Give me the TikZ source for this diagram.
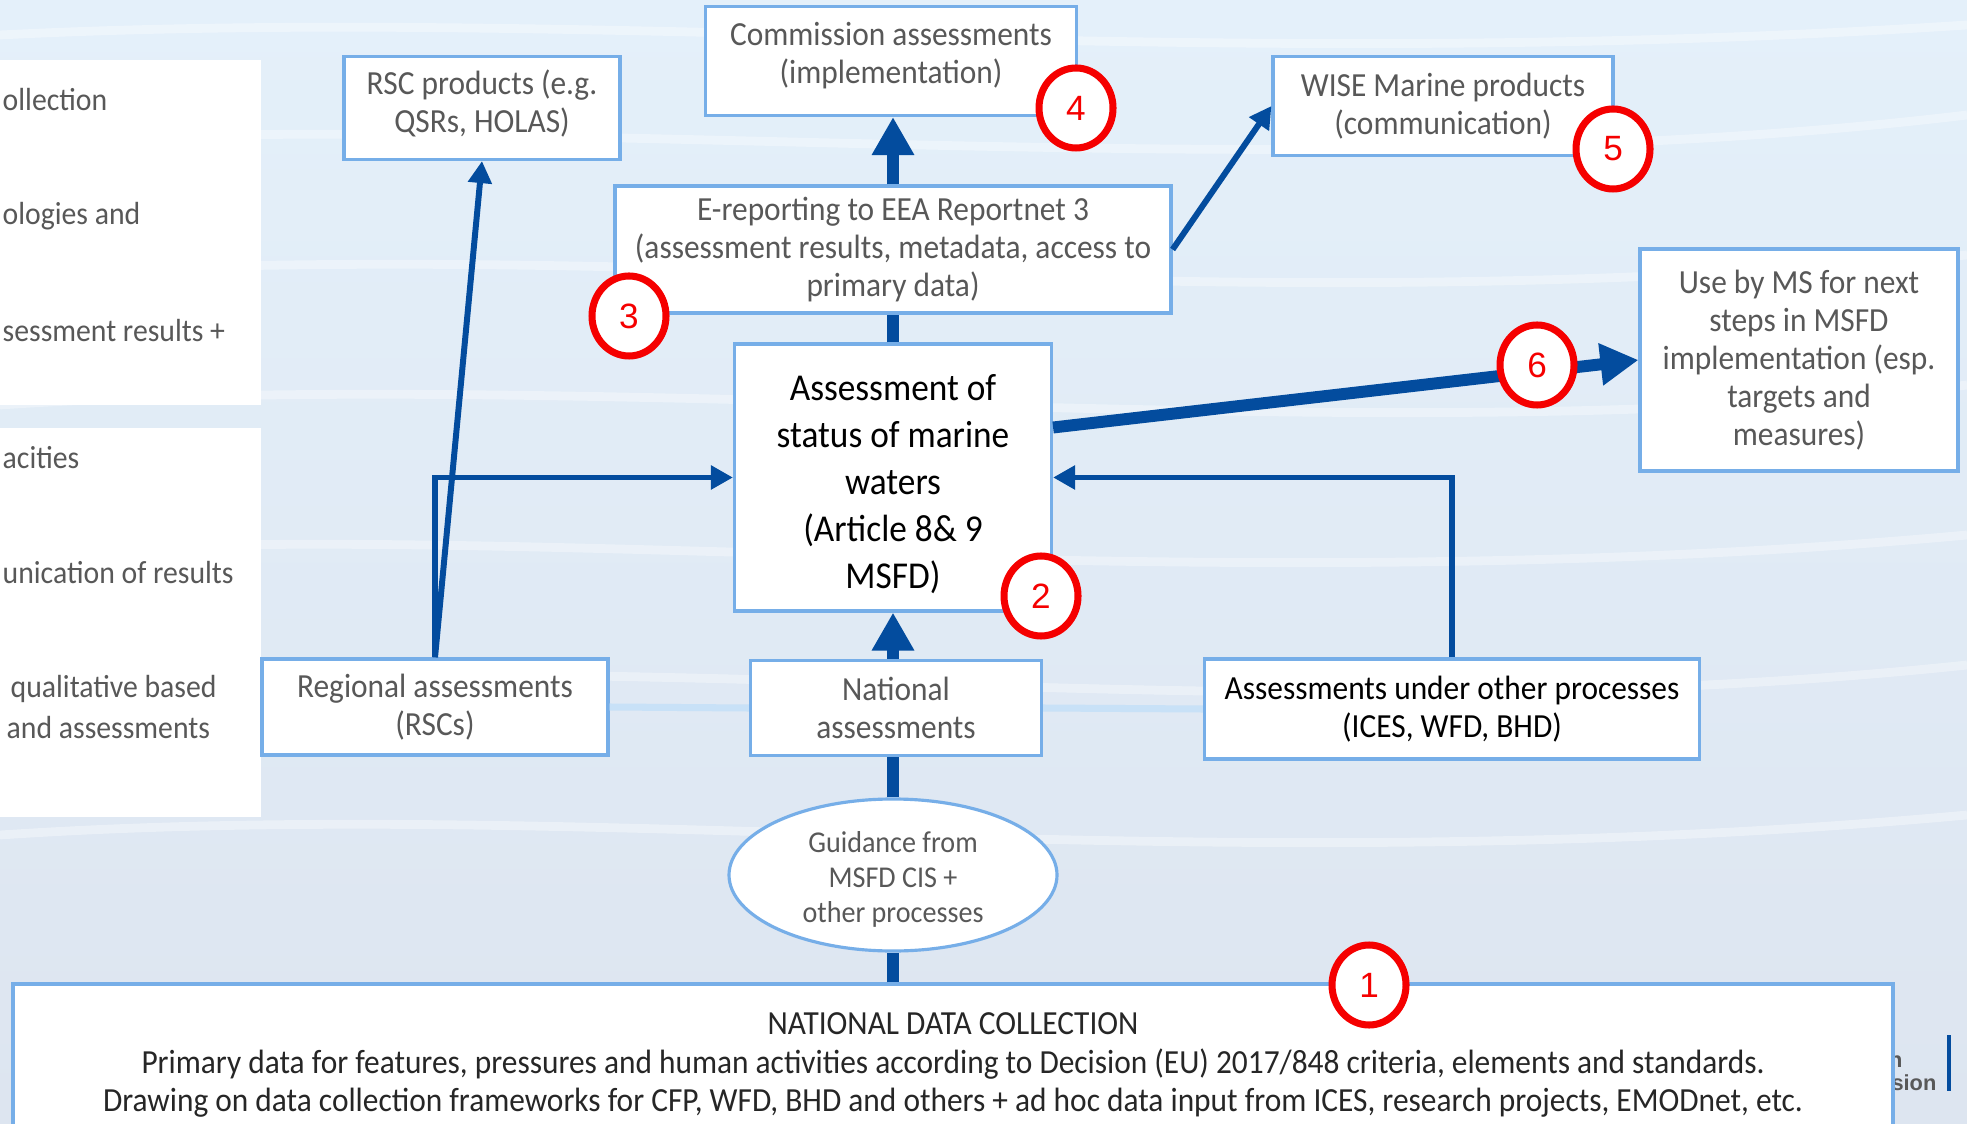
\documentclass[tikz,border=0pt]{standalone}
\usepackage{fontspec}
\setmainfont{Carlito}[FakeStretch=0.93]
\newfontfamily\ringfont{Liberation Sans}
\usetikzlibrary{arrows.meta,shapes.geometric}

\definecolor{seablue}{RGB}{3,76,158}
\definecolor{boxline}{RGB}{118,174,232}
\definecolor{txtgrey}{RGB}{88,88,88}
\definecolor{ringred}{RGB}{245,0,0}
\definecolor{watertop}{RGB}{228,240,250}
\definecolor{watermid}{RGB}{214,231,245}
\definecolor{waterbot}{RGB}{221,229,240}
\definecolor{faintblue}{RGB}{200,225,247}

\tikzset{
  infobox/.style={draw=boxline, line width=0.9pt, fill=white, text=txtgrey, align=center,
    inner sep=0pt, font=\fontsize{9.6}{10.8}\selectfont},
  mainbox/.style={infobox, text=black, font=\fontsize{10.8}{13.4}\selectfont},
  ndcbox/.style={infobox, text=black!85, font=\fontsize{9.6}{11}\selectfont},
  sidetext/.style={text=txtgrey, inner sep=0pt, anchor=west, font=\fontsize{9.1}{10.8}\selectfont},
  ringmark/.style={ellipse, draw=ringred, line width=2pt, fill=white, text=ringred,
    minimum width=0.74cm, minimum height=0.80cm, inner sep=0pt, font=\ringfont\fontsize{10}{10}\selectfont},
  bigflow/.style={draw=seablue, line width=3.4pt, -{Triangle[length=0.38cm,width=0.40cm]}},
  bigpipe/.style={draw=seablue, line width=3.4pt},
  thinflow/.style={draw=seablue, line width=1.7pt, -{Triangle[length=0.22cm,width=0.23cm]}},
  faintlink/.style={draw=faintblue, line width=2pt},
  streak/.style={draw=white, opacity=0.35, line width=2.5pt}
}

\begin{document}
\begin{tikzpicture}
  \clip (0,0) rectangle (19.67,-11.24);

  % sea background
  \shade[top color=watertop, middle color=watermid, bottom color=waterbot] (0,0) rectangle (19.67,-11.24);
  \draw[streak] (0,-0.35) .. controls (6,-0.05) and (12,-0.75) .. (19.67,-0.25);
  \draw[streak] (0,-1.45) .. controls (5,-1.05) and (13,-1.95) .. (19.67,-1.15);
  \draw[streak] (0,-2.75) .. controls (7,-2.35) and (12,-3.25) .. (19.67,-2.55);
  \draw[streak] (0,-4.05) .. controls (6,-3.65) and (14,-4.55) .. (19.67,-3.85);
  \draw[streak] (0,-5.55) .. controls (5,-5.15) and (12,-6.05) .. (19.67,-5.35);
  \draw[streak] (0,-6.85) .. controls (7,-6.45) and (13,-7.35) .. (19.67,-6.65);
  \draw[streak] (0,-8.35) .. controls (6,-7.95) and (12,-8.85) .. (19.67,-8.15);

  % cut-off side panels
  \fill[white] (0,-0.60) rectangle (2.61,-4.05);
  \fill[white] (0,-4.28) rectangle (2.61,-8.17);
  \node[sidetext] (side1) at (0.02,-1.00) {ollection};
  \node[sidetext] (side2) at (0.02,-2.16) {ologies and};
  \node[sidetext] (side3) at (0.02,-3.31) {sessment results +};
  \node[sidetext] (side4) at (0.02,-4.58) {acities};
  \node[sidetext] (side5) at (0.02,-5.73) {unication of results};
  \node[sidetext] (side6) at (0.10,-6.89) {qualitative based};
  \node[sidetext] (side7) at (0.06,-7.28) {and assessments};

  % logo fragment behind the data box
  \node[text=txtgrey, inner sep=0pt, anchor=east, font=\ringfont\bfseries\fontsize{6.2}{6.2}\selectfont] (logoa) at (19.03,-10.62) {n};
  \node[text=txtgrey, inner sep=0pt, anchor=east, font=\ringfont\bfseries\fontsize{6.2}{6.2}\selectfont] (logob) at (19.37,-10.83) {sion};
  \fill[seablue] (19.47,-10.35) rectangle (19.51,-10.91);

  % boxes
  \node[infobox, minimum width=2.76cm, minimum height=1.03cm] (rsc) at (4.82,-1.08) {RSC products (e.g.\\QSRs, HOLAS)\rule[-4pt]{0pt}{0pt}};
  \node[infobox, minimum width=3.71cm, minimum height=1.09cm] (commission) at (8.91,-0.61) {Commission assessments\\(implementation)\rule[-4.5pt]{0pt}{0pt}};
  \node[infobox, minimum width=3.40cm, minimum height=0.99cm] (wise) at (14.43,-1.06) {WISE Marine products\\(communication)};
  \node[infobox, minimum width=5.56cm, minimum height=1.27cm] (ereport) at (8.93,-2.495) {E-reporting to EEA Reportnet 3\\(assessment results, metadata, access to\\primary data)};
  \node[infobox, minimum width=3.18cm, minimum height=2.22cm] (msuse) at (17.99,-3.60) {Use by MS for next\\steps in MSFD\\implementation (esp.\\targets and\\measures)};
  \node[mainbox, minimum width=3.17cm, minimum height=2.67cm] (status) at (8.93,-4.775) {\rule{0pt}{11pt}Assessment of\\status of marine\\waters\\(Article 8\& 9\\MSFD)};
  \node[infobox, minimum width=3.46cm, minimum height=0.96cm] (regional) at (4.35,-7.07) {Regional assessments\\(RSCs)};
  \node[infobox, minimum width=2.91cm, minimum height=0.95cm] (national) at (8.96,-7.08) {National\\assessments};
  \node[infobox, text=black, minimum width=4.95cm, minimum height=1.00cm] (other) at (14.52,-7.09) {Assessments under other processes\\(ICES, WFD, BHD)};
  \node[infobox, ellipse, minimum width=3.28cm, minimum height=1.52cm, font=\fontsize{8.6}{9.9}\selectfont] (guidance) at (8.93,-8.75) {\rule{0pt}{8.5pt}Guidance from\\MSFD CIS +\\other processes};
  \node[ndcbox, minimum width=18.80cm, minimum height=1.62cm] (ndc) at (9.53,-10.65) {NATIONAL DATA COLLECTION\\Primary data for features, pressures and human activities according to Decision (EU) 2017/848 criteria, elements and standards.\\Drawing on data collection frameworks for CFP, WFD, BHD and others + ad hoc data input from ICES, research projects, EMODnet, etc.};

  % faint links between the assessment boxes
  \draw[faintlink] (regional.east) -- (national.west);
  \draw[faintlink] (national.east) -- (other.west);

  % flows
  \draw[bigpipe] (ndc.north -| guidance.south) -- (guidance.south);
  \draw[bigpipe] (guidance.north) -- (guidance.north |- national.south);
  \draw[bigflow] (status.south |- national.north) -- (status.south);
  \draw[bigpipe] (status.north) -- (ereport.south);
  \draw[bigflow] (ereport.north) -- (ereport.north |- commission.south);
  \draw[bigflow] ([yshift=0.50cm]status.east) -- (msuse.west);
  \draw[thinflow] (ereport.east) -- (wise.west);
  \draw[thinflow] (regional.north) |- (status.west);
  \draw[thinflow] (regional.north) -- (rsc.south);
  \draw[thinflow] (other.north) |- (status.east);

  % numbered marks
  \node[ringmark] (ring1) at (13.69,-9.85) {1};
  \node[ringmark] (ring2) at (10.41,-5.96) {2};
  \node[ringmark] (ring3) at (6.29,-3.16) {3};
  \node[ringmark] (ring4) at (10.76,-1.08) {4};
  \node[ringmark] (ring5) at (16.13,-1.49) {5};
  \node[ringmark] (ring6) at (15.37,-3.65) {6};
\end{tikzpicture}
\end{document}
